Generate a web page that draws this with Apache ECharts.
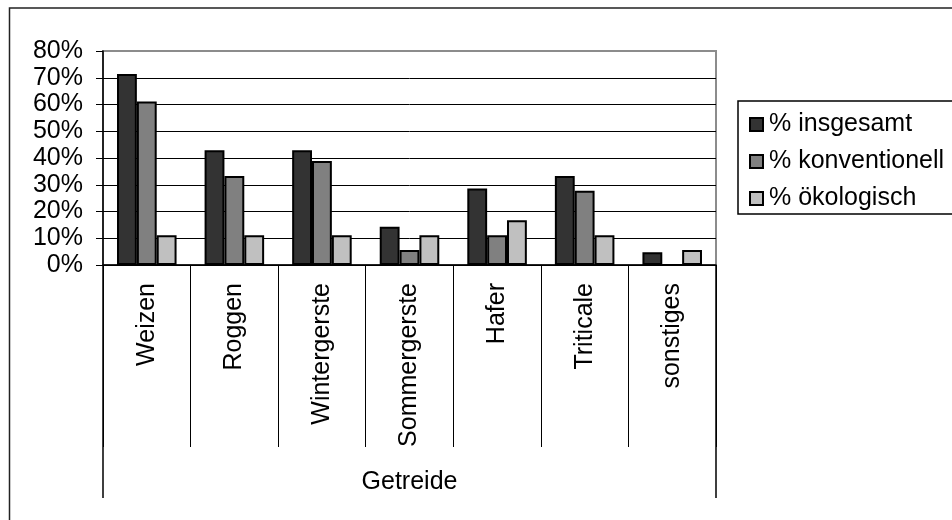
<!DOCTYPE html>
<html>
<head>
<meta charset="utf-8">
<script src="https://cdn.jsdelivr.net/npm/echarts@6/dist/echarts.min.js"></script>
<style>html,body{margin:0;padding:0;background:#fff}#c{width:952px;height:520px}</style>
</head>
<body>
<div id="c"></div>
<script>
var categories = ['Weizen', 'Roggen', 'Wintergerste', 'Sommergerste', 'Hafer', 'Triticale', 'sonstiges'];
var groupLabel = ['Getreide'];
var seriesNames = ['% insgesamt', '% konventionell', '% ökologisch'];
var insgesamt = [71.4, 42.9, 42.9, 14.3, 28.6, 33.3, 4.8];
var konventionell = [61.1, 33.3, 38.9, 5.6, 11.1, 27.8, 0];
var oekologisch = [11.1, 11.1, 11.1, 11.1, 16.7, 11.1, 5.6];
var yMin = 0, yMax = 80, yStep = 10;

var colors = ['#333333', '#808080', '#c0c0c0'];
var font = 'Liberation Sans, Arial, sans-serif';
var fs = 25;

var chart = echarts.init(document.getElementById('c'), null, {renderer: 'canvas'});
var splitColors = [];
for (var v = yMin; v <= yMax; v += yStep) splitColors.push(v === yMax ? 'rgba(0,0,0,0)' : '#000');

function bar(name, data, i) {
  return {
    name: name, type: 'bar', data: data, xAxisIndex: 0,
    barGap: '0%', barCategoryGap: '32%',
    itemStyle: {color: colors[i], borderColor: '#000', borderWidth: 2},
    emphasis: {disabled: true}
  };
}

chart.setOption({
  animation: false,
  backgroundColor: '#fff',
  textStyle: {fontFamily: font},
  grid: {left: 103, right: 236, top: 51, bottom: 255, show: true, borderColor: '#8c8c8c', borderWidth: 2, backgroundColor: 'transparent'},
  legend: {
    orient: 'vertical', left: 744, top: 107,
    itemWidth: 13, itemHeight: 13, itemGap: 12,
    icon: 'rect',
    textStyle: {fontSize: fs, color: '#000', fontFamily: font, padding: [0, 0, 0, 1]},
    data: seriesNames
  },
  xAxis: [{
    type: 'category', data: categories, position: 'bottom',
    axisLine: {show: true, lineStyle: {color: '#000', width: 1.5}},
    axisTick: {show: true, interval: 0, length: 182, lineStyle: {color: '#000', width: 1}},
    axisLabel: {interval: 0, rotate: 90, margin: 18, fontSize: fs, color: '#000', fontFamily: font}
  }, {
    type: 'category', data: groupLabel, position: 'bottom',
    axisLine: {show: false},
    axisTick: {show: true, interval: 0, length: 233, lineStyle: {color: '#000', width: 1.5}},
    axisLabel: {margin: 205, fontSize: fs, color: '#000', fontFamily: font}
  }],
  yAxis: {
    type: 'value', min: yMin, max: yMax, interval: yStep,
    axisLine: {show: true, lineStyle: {color: '#000', width: 1.5}},
    axisTick: {show: true, length: 7, lineStyle: {color: '#000'}},
    axisLabel: {formatter: '{value}%', fontSize: fs, color: '#000', margin: 20, fontFamily: font},
    splitLine: {show: true, lineStyle: {color: splitColors, width: 1}}
  },
  graphic: [
    {type: 'rect', shape: {x: 9.5, y: 8, width: 1000, height: 600}, style: {fill: 'none', stroke: '#222', lineWidth: 1.5}, silent: true, z: -1},
    {type: 'rect', shape: {x: 738, y: 101, width: 300, height: 113}, style: {fill: 'none', stroke: '#000', lineWidth: 1.5}, silent: true}
  ],
  series: [
    bar(seriesNames[0], insgesamt, 0),
    bar(seriesNames[1], konventionell, 1),
    bar(seriesNames[2], oekologisch, 2)
  ]
});
</script>
</body>
</html>
